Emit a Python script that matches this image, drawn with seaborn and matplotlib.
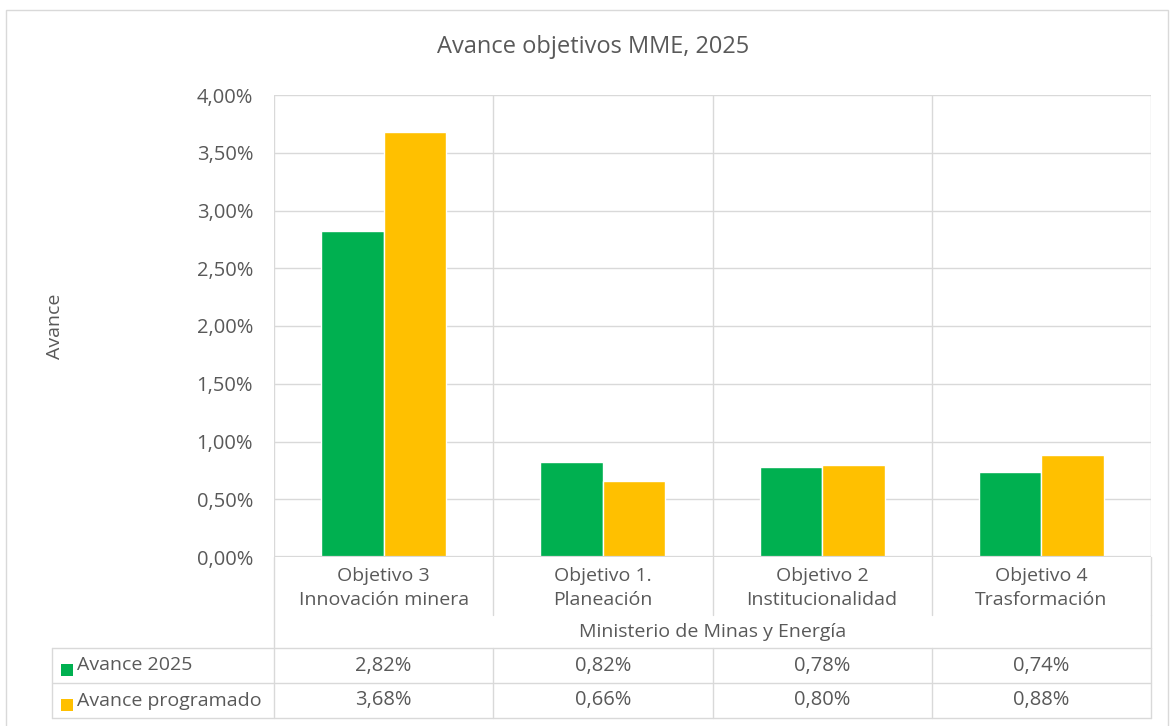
import matplotlib
matplotlib.use('Agg')
import matplotlib.pyplot as plt
from matplotlib.lines import Line2D
from matplotlib.patches import Rectangle
import seaborn as sns
import pandas as pd

title = 'Avance objetivos MME, 2025'
y_label = 'Avance'
group_label = 'Ministerio de Minas y Energía'
categories = ['Objetivo 3\nInnovación minera', 'Objetivo 1.\nPlaneación',
              'Objetivo 2\nInstitucionalidad', 'Objetivo 4\nTrasformación']
series = ['Avance 2025', 'Avance programado']
avance_2025 = [2.82, 0.82, 0.78, 0.74]
avance_programado = [3.68, 0.66, 0.80, 0.88]
y_ticks = [0.0, 0.5, 1.0, 1.5, 2.0, 2.5, 3.0, 3.5, 4.0]
colors = ['#00B050', '#FFC000']

df = pd.DataFrame({
    'objetivo': categories * 2,
    'serie': [series[0]] * len(categories) + [series[1]] * len(categories),
    'valor': avance_2025 + avance_programado,
})


def pct(v):
    return f'{v:.2f}%'.replace('.', ',')


sns.set_style('white')
plt.rcParams['font.family'] = ['Open Sans', 'DejaVu Sans']
text_color = '#595959'
grid_color = '#D9D9D9'
fs = 14
fs_num = 14.5

W, H = 1171, 726
fig = plt.figure(figsize=(W / 100, H / 100), dpi=100)


def fx(x):
    return x / W


def fy(y):
    return 1 - y / H


def hline(x0, x1, y, lw=1.0):
    fig.add_artist(Line2D([fx(x0), fx(x1)], [fy(y), fy(y)], transform=fig.transFigure,
                          color=grid_color, lw=lw))


def vline(x, y0, y1, lw=1.0):
    fig.add_artist(Line2D([fx(x), fx(x)], [fy(y0), fy(y1)], transform=fig.transFigure,
                          color=grid_color, lw=lw))


# plot area in pixels
px0, px1, py_top, py_bot = 274, 1151, 95, 557
ax = fig.add_axes([fx(px0), fy(py_bot), (px1 - px0) / W, (py_bot - py_top) / H])

sns.barplot(data=df, x='objetivo', y='valor', hue='serie', palette=colors,
            width=0.57, saturation=1, ax=ax, legend=False, zorder=3)

ax.set_xlim(-0.5, len(categories) - 0.5)
ax.set_ylim(0, 4)
ax.set_yticks(y_ticks)
ax.set_yticklabels([pct(v) for v in y_ticks])
ax.set_xticks(range(len(categories)))
ax.set_xticklabels(categories, linespacing=1.42)
ax.tick_params(axis='y', length=0, pad=15, labelsize=fs_num, labelcolor=text_color)
ax.tick_params(axis='x', length=0, pad=7, labelsize=fs, labelcolor=text_color)
ax.set_xlabel('')
ax.set_ylabel('')
for s in ax.spines.values():
    s.set_visible(False)
for v in y_ticks:
    ax.axhline(v, color=grid_color, lw=1.0, zorder=0)
for b in range(len(categories) + 1):
    ax.axvline(b - 0.5, color=grid_color, lw=1.0, zorder=0)
ax.axhline(0, color=grid_color, lw=1.6, zorder=4)

# titles
fig.text(fx(593), fy(47), title, ha='center', va='center', fontsize=17, color=text_color)
fig.text(fx(55), fy((py_top + py_bot) / 2), y_label, ha='center', va='center', rotation=90,
         fontsize=fs, color=text_color)

# category separators below the axis and the data table
cw = (px1 - px0) / len(categories)
for i in range(1, len(categories) + 1):
    vline(px0 + i * cw, py_bot, 615)
vline(px0, py_bot, 718)
fig.text(fx((px0 + px1) / 2), fy(632), group_label, ha='center', va='center',
         fontsize=fs, color=text_color)

row_y = [648, 683, 718]
tx0 = 52
for y in row_y:
    hline(tx0, px1, y)
vline(tx0, row_y[0], row_y[-1])
for i in range(1, len(categories) + 1):
    vline(px0 + i * cw, row_y[0], row_y[-1])
vline(px1, 615, row_y[0])

for r, (name, vals, col) in enumerate(zip(series, [avance_2025, avance_programado], colors)):
    yc = (row_y[r] + row_y[r + 1]) / 2
    fig.add_artist(Rectangle((fx(61), fy(yc + 10)), 12 / W, 12 / H,
                             transform=fig.transFigure, color=col, lw=0))
    fig.text(fx(77), fy(yc), name, ha='left', va='center', fontsize=fs, color=text_color)
    for i, v in enumerate(vals):
        fig.text(fx(px0 + (i + 0.5) * cw), fy(yc), pct(v), ha='center', va='center',
                 fontsize=fs_num, color=text_color)

# outer chart border
fig.add_artist(Rectangle((fx(6), fy(735)), (1168 - 6) / W, (735 - 10) / H,
                         transform=fig.transFigure, fill=False, edgecolor=grid_color, lw=1.0))

fig.savefig('out.png', dpi=100, facecolor='white')
